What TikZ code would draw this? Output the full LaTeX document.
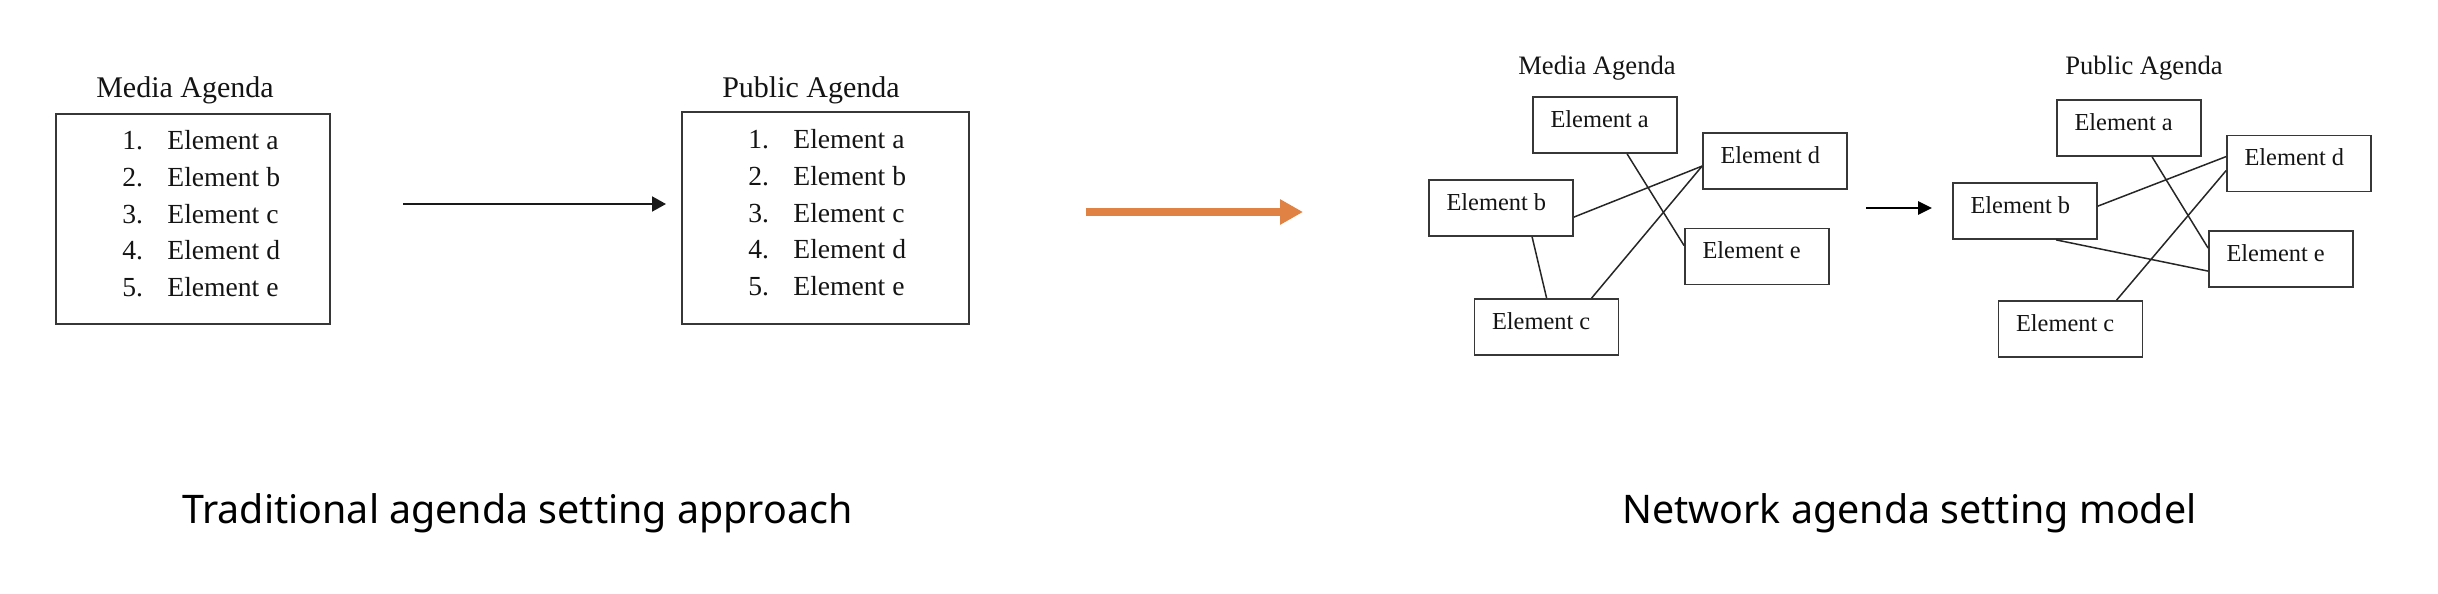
\documentclass[tikz,border=0pt]{standalone}
\usepackage{fontspec}
\setmainfont{Liberation Serif}
\newfontfamily\capfont{Noto Sans}
\usetikzlibrary{arrows.meta,calc}
\definecolor{orangeA}{RGB}{224,130,68}
\definecolor{boxgray}{RGB}{55,55,55}
\definecolor{txt}{RGB}{20,20,20}
\begin{document}
\begin{tikzpicture}[x=0.5pt,y=-0.5pt,
  listbox/.style={draw=boxgray, line width=1pt, inner sep=0pt},
  netbox/.style={draw=boxgray, line width=0.9pt, minimum width=72pt, minimum height=28pt, inner sep=0pt},
  title/.style={font=\fontsize{15}{18}\selectfont, text=txt, anchor=base, inner sep=0pt},
  item/.style={font=\fontsize{13.8}{16}\selectfont, text=txt, anchor=base west, inner sep=0pt},
  ntitle/.style={font=\fontsize{13.3}{16}\selectfont, text=txt, anchor=base, inner sep=0pt},
  nlabel/.style={font=\fontsize{12.2}{14}\selectfont, text=txt, anchor=base west, inner sep=0pt},
  caption/.style={font=\capfont\fontsize{19.7}{24}\selectfont, text=black, anchor=base west, inner sep=0pt},
  edge/.style={draw=black!85, line width=0.75pt},
  blackarrow/.style={draw=black!90, line width=1pt, -{Triangle[length=7pt,width=7.5pt]}},
  smallarrow/.style={draw=black, line width=1.3pt, -{Triangle[length=7pt,width=6.5pt]}},
  orangearrow/.style={draw=orangeA, line width=4pt, -{Triangle[length=11.5pt,width=12pt]}}
]
\useasboundingbox (0,0) rectangle (2438,594);

% ---------- Traditional ----------
\node[title] (mtitle) at (185,97) {Media Agenda};
\node[listbox, minimum width=137pt, minimum height=105pt] (mbox) at (193,219) {};
\foreach \n/\l/\y in {1/a/149,2/b/186,3/c/223,4/d/259,5/e/296}{
  \node[item] (mnum\n) at (122,\y) {\n.};
  \node[item] (mitem\n) at (167,\y) {Element \l};
}

\node[title] (ptitle) at (811,97) {Public Agenda};
\node[listbox, minimum width=143.5pt, minimum height=106pt] (pbox) at (825.5,218) {};
\foreach \n/\l/\y in {1/a/148,2/b/185,3/c/222,4/d/258,5/e/295}{
  \node[item] (pnum\n) at (748,\y) {\n.};
  \node[item] (pitem\n) at (793,\y) {Element \l};
}

\coordinate (ar1s) at (403,204);
\coordinate (ar1e) at (666,204);
\draw[blackarrow] (ar1s) -- (ar1e);

% ---------- orange arrow ----------
\coordinate (oas) at (1086,212);
\coordinate (oae) at (1303,212);
\draw[orangearrow] (oas) -- (oae);

% ---------- Network: media ----------
\node[ntitle] (nmtitle) at (1597,75) {Media Agenda};
\node[netbox] (a1) at (1605,125) {};
\node[netbox] (d1) at (1775,161) {};
\node[netbox] (b1) at (1501,208) {};
\node[netbox] (e1) at (1757,256.5) {};
\node[netbox] (c1) at (1546.5,327) {};
\foreach \b/\l in {a1/a,d1/d,b1/b,e1/e,c1/c}{
  \node[nlabel] (t\b) at ($(\b.north west)+(18,31)$) {Element \l};
}
\draw[edge] ($(a1.south west)+(95,0)$) -- ($(e1.north west)+(0,18)$);
\draw[edge] ($(b1.north east)+(0,38)$) -- ($(d1.north west)+(0,34)$);
\draw[edge] ($(c1.north west)+(118,0)$) -- ($(d1.north west)+(0,34)$);
\draw[edge] ($(b1.south west)+(104,0)$) -- ($(c1.north west)+(73,0)$);

\coordinate (ar3s) at (1866,208);
\coordinate (ar3e) at (1932,208);
\draw[smallarrow] (ar3s) -- (ar3e);

% ---------- Network: public ----------
\node[ntitle] (nptitle) at (2144,75) {Public Agenda};
\node[netbox] (a2) at (2129,128) {};
\node[netbox] (d2) at (2299,163.5) {};
\node[netbox] (b2) at (2025,211) {};
\node[netbox] (e2) at (2281,259) {};
\node[netbox] (c2) at (2070.5,329) {};
\foreach \b/\l in {a2/a,d2/d,b2/b,e2/e,c2/c}{
  \node[nlabel] (t\b) at ($(\b.north west)+(18,31)$) {Element \l};
}
\draw[edge] ($(a2.south west)+(96,0)$) -- ($(e2.north west)+(0,18)$);
\draw[edge] ($(b2.north east)+(0,24)$) -- ($(d2.north west)+(0,22)$);
\draw[edge] ($(c2.north west)+(119,0)$) -- ($(d2.north west)+(0,36)$);
\draw[edge] ($(b2.south west)+(104,0)$) -- ($(e2.north west)+(0,41)$);

% ---------- captions ----------
\node[caption] (cap1) at (182,523) {Traditional agenda setting approach};
\node[caption] (cap2) at (1622,523) {Network agenda setting model};
\end{tikzpicture}
\end{document}
